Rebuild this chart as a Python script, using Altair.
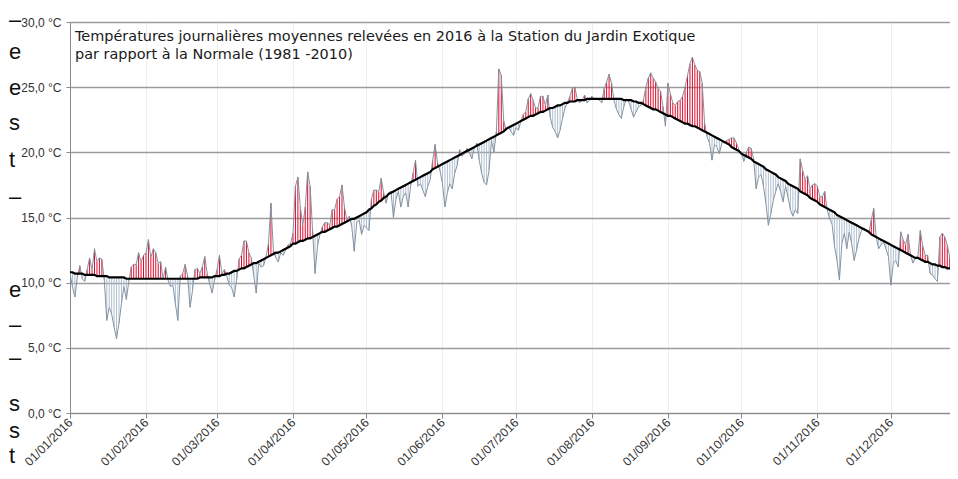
import altair as alt
import pandas as pd

# Daily mean temperatures 2016 (°C)
jan_t = [10.7, 9.7, 8.9, 10.4, 11.3, 10.3, 10.1, 11.0, 11.9, 11.0, 12.6, 11.6, 11.9, 11.8, 10.2, 7.1,
         8.1, 7.6, 6.6, 5.7, 6.9, 8.4, 9.7, 8.7, 10.1, 11.2, 11.4, 11.4, 12.3, 11.6, 12.1]
feb_t = [12.3, 13.3, 11.9, 12.6, 12.3, 11.5, 11.6, 10.3, 11.2, 10.2, 9.7, 9.8, 8.4, 7.1, 10.5, 10.7,
         11.4, 10.5, 8.1, 9.4, 11.0, 11.1, 10.7, 11.2, 12.0, 10.7, 9.9, 9.2, 10.2]
mar_t = [11.0, 12.1, 10.7, 11.0, 10.5, 9.8, 9.6, 8.9, 10.2, 11.8, 12.1, 13.2, 13.2, 12.3, 11.9, 10.5,
         9.2, 11.5, 11.2, 11.3, 12.0, 13.0, 16.1, 12.5, 11.9, 11.6, 12.3, 12.1, 12.5, 12.9, 13.0]
apr_t = [13.8, 17.4, 18.1, 15.8, 14.4, 15.8, 18.5, 17.4, 14.0, 10.7, 12.8, 13.7, 14.3, 14.6, 14.6,
         14.4, 15.6, 15.6, 16.4, 16.6, 17.5, 15.8, 14.8, 15.1, 14.3, 12.4, 14.6, 14.8, 13.7, 14.4]
may_t = [14.2, 14.0, 16.4, 17.1, 17.1, 17.0, 18.0, 16.9, 16.1, 16.9, 17.0, 15.0, 16.4, 17.0, 15.8,
         16.6, 16.9, 15.8, 17.4, 18.4, 19.4, 17.4, 17.6, 17.1, 16.6, 17.4, 17.9, 19.4, 20.6, 19.2, 18.6]
jun_t = [17.6, 15.8, 16.9, 17.6, 17.2, 18.4, 19.0, 20.2, 19.7, 19.9, 20.3, 20.0, 19.5, 20.3, 20.7,
         19.4, 18.4, 17.7, 17.5, 18.6, 20.9, 20.0, 21.6, 26.4, 25.9, 22.4, 21.7, 21.9, 21.6, 21.3]
jul_t = [21.9, 21.7, 22.4, 22.9, 23.1, 24.1, 24.5, 24.0, 23.4, 23.4, 24.3, 24.3, 23.6, 24.4, 22.7,
         21.9, 21.6, 21.1, 21.7, 22.6, 23.4, 23.8, 24.3, 24.9, 25.0, 24.1, 23.8, 24.0, 24.4, 23.8, 24.0]
aug_t = [24.3, 24.1, 24.1, 24.0, 23.8, 24.9, 25.4, 26.0, 25.3, 24.0, 23.3, 22.9, 22.6, 23.5, 24.1,
         23.9, 23.3, 22.7, 23.1, 23.5, 23.6, 24.0, 25.0, 25.7, 26.1, 25.7, 25.4, 24.9, 24.7, 23.5, 22.0]
sep_t = [25.3, 24.5, 23.8, 23.6, 23.9, 24.0, 24.3, 25.0, 25.9, 26.8, 27.3, 26.7, 26.3, 26.2, 25.3,
         22.2, 21.2, 20.7, 19.4, 20.6, 20.4, 19.9, 20.7, 20.8, 20.9, 21.0, 21.1, 21.1, 20.7, 20.2]
oct_t = [19.9, 19.3, 20.0, 20.4, 20.3, 19.5, 17.2, 18.1, 18.3, 17.4, 16.1, 14.4, 15.3, 16.3, 17.0,
         17.6, 17.0, 16.2, 17.4, 16.6, 15.6, 15.1, 15.6, 15.3, 19.5, 18.6, 17.9, 18.2, 17.2, 17.5, 17.6]
nov_t = [17.4, 16.6, 16.6, 17.0, 15.6, 14.9, 14.5, 12.8, 11.7, 10.2, 13.0, 13.8, 12.6, 13.9, 13.0,
         11.7, 12.5, 13.4, 14.0, 14.2, 14.0, 13.8, 14.8, 15.7, 13.5, 12.6, 12.9, 13.1, 12.6, 12.0]
dec_t = [9.8, 11.5, 11.7, 11.2, 13.9, 13.3, 12.9, 13.7, 12.1, 11.5, 11.9, 12.0, 14.0, 12.8, 12.1,
         12.1, 10.7, 10.6, 10.3, 10.1, 13.5, 13.8, 13.5, 12.9, 12.0, 10.9, 12.3, 13.6, 13.0, 12.5, 12.0]

# Normal 1981-2010 (°C)
jan_n = [10.8, 10.8, 10.7, 10.7, 10.7, 10.7, 10.6, 10.6, 10.6, 10.6, 10.6, 10.5, 10.5, 10.5, 10.5,
         10.5, 10.4, 10.4, 10.4, 10.4, 10.4, 10.4, 10.4, 10.3, 10.3, 10.3, 10.3, 10.3, 10.3, 10.3, 10.3]
feb_n = [10.3, 10.3, 10.3, 10.3, 10.3, 10.3, 10.3, 10.3, 10.3, 10.3, 10.3, 10.3, 10.3, 10.3, 10.3,
         10.3, 10.3, 10.3, 10.3, 10.3, 10.3, 10.3, 10.4, 10.4, 10.4, 10.4, 10.4, 10.4, 10.5]
mar_n = [10.5, 10.5, 10.6, 10.6, 10.7, 10.7, 10.8, 10.9, 10.9, 11.0, 11.1, 11.1, 11.2, 11.3, 11.4,
         11.5, 11.5, 11.6, 11.7, 11.8, 11.9, 12.0, 12.1, 12.2, 12.3, 12.3, 12.4, 12.5, 12.6, 12.7, 12.8]
apr_n = [13.0, 13.0, 13.1, 13.2, 13.2, 13.3, 13.4, 13.4, 13.5, 13.6, 13.7, 13.8, 13.9, 13.9, 14.0,
         14.1, 14.2, 14.3, 14.3, 14.4, 14.5, 14.6, 14.7, 14.8, 14.9, 14.9, 15.0, 15.1, 15.2, 15.3]
may_n = [15.4, 15.6, 15.7, 15.9, 16.0, 16.2, 16.3, 16.5, 16.6, 16.8, 16.9, 17.0, 17.1, 17.2, 17.3,
         17.4, 17.5, 17.6, 17.7, 17.8, 17.9, 18.0, 18.1, 18.2, 18.3, 18.4, 18.5, 18.7, 18.8, 18.9, 19.0]
jun_n = [19.1, 19.2, 19.3, 19.4, 19.5, 19.6, 19.7, 19.8, 19.9, 20.0, 20.1, 20.2, 20.3, 20.4, 20.5,
         20.6, 20.7, 20.8, 20.9, 21.0, 21.1, 21.2, 21.3, 21.4, 21.5, 21.6, 21.8, 21.9, 22.0, 22.1]
jul_n = [22.2, 22.3, 22.4, 22.5, 22.6, 22.7, 22.8, 22.8, 22.9, 23.0, 23.1, 23.1, 23.2, 23.3, 23.4,
         23.4, 23.5, 23.6, 23.6, 23.7, 23.8, 23.8, 23.9, 23.9, 23.9, 24.0, 24.0, 24.0, 24.0, 24.1, 24.1]
aug_n = [24.1, 24.1, 24.1, 24.1, 24.1, 24.1, 24.1, 24.1, 24.1, 24.1, 24.1, 24.1, 24.1, 24.0, 24.0,
         24.0, 24.0, 23.9, 23.9, 23.8, 23.8, 23.7, 23.6, 23.5, 23.4, 23.3, 23.3, 23.2, 23.1, 23.0, 22.9]
sep_n = [22.8, 22.8, 22.7, 22.6, 22.5, 22.4, 22.3, 22.2, 22.2, 22.1, 22.0, 22.0, 21.9, 21.8, 21.7,
         21.6, 21.5, 21.4, 21.3, 21.2, 21.1, 21.0, 20.9, 20.8, 20.7, 20.6, 20.4, 20.3, 20.2, 20.1]
oct_n = [19.9, 19.8, 19.7, 19.6, 19.5, 19.3, 19.2, 19.1, 19.0, 18.9, 18.7, 18.6, 18.5, 18.4, 18.3,
         18.1, 18.0, 17.9, 17.8, 17.6, 17.5, 17.4, 17.3, 17.2, 17.0, 16.9, 16.8, 16.7, 16.5, 16.4, 16.3]
nov_n = [16.2, 16.0, 15.9, 15.8, 15.7, 15.6, 15.5, 15.4, 15.2, 15.1, 15.0, 14.9, 14.8, 14.7, 14.6,
         14.5, 14.4, 14.3, 14.2, 14.1, 14.0, 13.9, 13.7, 13.6, 13.5, 13.4, 13.3, 13.2, 13.1, 13.0]
dec_n = [12.9, 12.8, 12.7, 12.6, 12.5, 12.4, 12.3, 12.2, 12.1, 12.0, 11.9, 11.9, 11.8, 11.7, 11.6,
         11.6, 11.5, 11.4, 11.4, 11.3, 11.3, 11.2, 11.2, 11.1, 11.1, 11.0, 11.0, 11.0, 10.9, 10.9, 10.8]

title_lines = [
    "Températures journalières moyennes relevées en 2016 à la Station du Jardin Exotique",
    "par rapport à la Normale (1981 -2010)",
]
# cut-off text fragments at the far left edge of the picture
side_chars = ["–", "e", "e", "s", "t", "–", "e", "–", "–", "s", "s", "t"]
side_y = [20, 52, 88, 123, 160, 197, 290, 325, 358, 404, 431, 456]

temps = jan_t + feb_t + mar_t + apr_t + may_t + jun_t + jul_t + aug_t + sep_t + oct_t + nov_t + dec_t
normals = jan_n + feb_n + mar_n + apr_n + may_n + jun_n + jul_n + aug_n + sep_n + oct_n + nov_n + dec_n
assert len(temps) == 366, len(temps)
assert len(normals) == 366, len(normals)

dates = pd.date_range("2016-01-01", periods=366, freq="D").strftime("%Y-%m-%d")
df = pd.DataFrame({"date": list(dates), "t": temps, "n": normals})

RED = "#dc0a2c"
BLUE = "#aebfcf"
FONT = "Liberation Sans"

month_ticks = [alt.DateTime(year=2016, month=m, date=1, utc=True) for m in range(1, 13)]

x_enc = alt.X(
    "date:T",
    title=None,
    scale=alt.Scale(
        type="utc",
        domain=[alt.DateTime(year=2016, month=1, date=1, utc=True),
                alt.DateTime(year=2016, month=12, date=25, hours=3, utc=True)],
    ),
    axis=alt.Axis(
        values=month_ticks,
        labelExpr="utcFormat(datum.value, '%d/%m/%Y')",
        labelAngle=315,
        labelAlign="right",
        labelBaseline="middle",
        labelPadding=2,
        labelFontSize=12.3,
        tickSize=5,
        gridColor="#efefef",
        gridWidth=1,
    ),
)
y_enc = alt.Y(
    "t:Q",
    title=None,
    scale=alt.Scale(domain=[0, 30], nice=False),
    axis=alt.Axis(
        values=[0, 5, 10, 15, 20, 25, 30],
        labelExpr="replace(format(datum.value, '.1f'), '.', ',') + ' °C'",
        gridColor="#9c9c9c",
        gridWidth=1.5,
        tickSize=4,
        labelPadding=5,
        labelFontSize=12,
    ),
)

base = alt.Chart(df)
rules = base.mark_rule(strokeWidth=1, clip=True).encode(
    x=x_enc,
    y=y_enc,
    y2="n:Q",
    color=alt.condition("datum.t >= datum.n", alt.value(RED), alt.value(BLUE)),
)
temp_line = base.mark_line(color="#8593a1", strokeWidth=1, clip=True).encode(x="date:T", y="t:Q")
normal_line = base.mark_line(color="#000000", strokeWidth=2.2, clip=True).encode(x="date:T", y="n:Q")

one = pd.DataFrame({"k": [0]})
texts = []
for i, line in enumerate(title_lines):
    texts.append(
        alt.Chart(one).mark_text(align="left", baseline="alphabetic", font="DejaVu Sans", fontSize=14.45,
                                 color="#1a1a1a").encode(
            x=alt.value(5), y=alt.value(19 + 18 * i), text=alt.value(line))
    )
for ch, yy in zip(side_chars, side_y):
    texts.append(
        alt.Chart(one).mark_text(align="left", baseline="middle", font=FONT, fontSize=22,
                                 color="#111111").encode(
            x=alt.value(9 - 70), y=alt.value(yy - 22), text=alt.value(ch))
    )

chart = alt.layer(rules, temp_line, normal_line, *texts).properties(
    width=880,
    height=391,
    autosize=alt.AutoSizeParams(type="none"),
    padding={"left": 62, "top": 14, "right": 0, "bottom": 58},
).configure_view(stroke=None).configure_axis(
    domainColor="#8a8a8a",
    tickColor="#8a8a8a",
    labelFont=FONT,
    labelColor="#333333",
)

chart.save("out.html", embed_options={"renderer": "svg", "actions": False})
